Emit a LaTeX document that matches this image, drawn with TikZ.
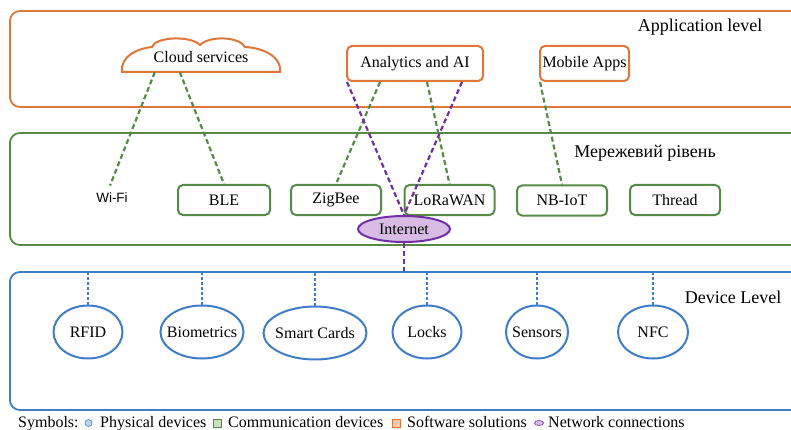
\documentclass[tikz,border=0pt]{standalone}
\usepackage{fontspec}
\setmainfont{Liberation Serif}
\newfontfamily\wififont{Liberation Sans}
\usetikzlibrary{positioning,shapes.geometric}
\definecolor{apporange}{HTML}{E0773A}
\definecolor{netgreen}{HTML}{548B45}
\definecolor{devblue}{HTML}{3F7DCB}
\definecolor{netpurple}{HTML}{7030A0}
\definecolor{internetfill}{HTML}{D9BCE6}
\definecolor{physfill}{HTML}{BDD3EE}
\definecolor{commfill}{HTML}{C9E2BC}
\definecolor{softfill}{HTML}{F8CBAD}
\begin{document}
\begin{tikzpicture}[
        x=1pt, y=-1pt,
        font=\fontsize{16}{19}\selectfont,
        layer/.style={draw, line width=1.8pt, rounded corners=10pt, minimum width=821pt, anchor=west},
        title/.style={font=\fontsize{18}{21}\selectfont},
        appbox/.style={draw=apporange, line width=2pt, rounded corners=5pt, minimum height=35pt},
        netbox/.style={draw=netgreen, line width=2pt, rounded corners=5pt, minimum width=90pt, minimum height=30pt},
        device/.style={ellipse, draw=devblue, line width=2pt, minimum height=53pt, inner xsep=-6pt, inner ysep=0pt},
        greenlink/.style={draw=netgreen, dash pattern=on 5pt off 3pt, line width=2.2pt},
        purplelink/.style={draw=netpurple, dash pattern=on 5pt off 3pt, line width=2.2pt},
        bluelink/.style={draw=devblue, dash pattern=on 3pt off 2pt, line width=2.2pt},
        keytext/.style={anchor=base west, inner sep=0pt}
    ]
        \useasboundingbox (0,0) rectangle (791,430);

        % Three levels
        \node[layer, draw=apporange, minimum height=96pt] (applayer) at (9,59) {};
        \node[layer, draw=netgreen, minimum height=112pt] (netlayer) at (9,189) {};
        \node[layer, draw=devblue, minimum height=138pt] (devlayer) at (9,341) {};

        % Application level
        \node[title] (apptitle) at (700,27) {Application level};
        \node[minimum width=158pt, minimum height=30pt] (cloud) at (201,57) {Cloud services};
        \draw[apporange, line width=2pt] (122,72) .. controls (120,55) and (140,48) .. (152,47)
            .. controls (155,37) and (190,35) .. (200,45)
            .. controls (210,35) and (240,37) .. (245,47)
            .. controls (265,48) and (282,58) .. (280,72) -- cycle;
        \node[appbox, minimum width=136pt] (analytics) at (415,63.5) {Analytics and AI};
        \node[appbox, minimum width=89pt, inner xsep=2pt] (mobile) at (584.5,63.5) {Mobile Apps};

        % Network level
        \node[title] (nettitle) at (645,153) {Мережевий рівень};
        \node[font=\wififont\fontsize{13.5}{16}\selectfont] (wifi) at (112,198) {Wi-Fi};
        \node[netbox, minimum width=92pt] (ble) at (224,200) {BLE};
        \node[netbox] (zigbee) at (336,200) {ZigBee};
        \node[netbox] (lorawan) at (449.5,200) {LoRaWAN};
        \node[netbox] (nbiot) at (562,200.5) {NB-IoT};
        \node[netbox] (thread) at (675,200) {Thread};
        \node[ellipse, draw=netpurple, fill=internetfill, line width=2pt, minimum width=92pt,
            minimum height=26pt, inner sep=0pt] (internet) at (404,229) {Internet};

        % Device level
        \node[title] (devtitle) at (733,297) {Device Level};
        \node[device, minimum width=69pt] (rfid) at (88,332) {RFID};
        \node[device, minimum width=83pt] (biometrics) at (202,332) {Biometrics};
        \node[device, minimum width=103pt] (smartcards) at (315,333) {Smart Cards};
        \node[device, minimum width=69pt] (locks) at (427,332) {Locks};
        \node[device, minimum width=62pt] (sensors) at (537,332) {Sensors};
        \node[device, minimum width=70pt] (nfc) at (653,332) {NFC};

        % Links between levels
        \draw[greenlink] ([xshift=33pt]cloud.south west) -- ([xshift=-2pt,yshift=4pt]wifi.north);
        \draw[greenlink] ([xshift=58pt]cloud.south west) -- (ble.north);
        \draw[greenlink] ([xshift=34pt]analytics.south west) -- (zigbee.north);
        \draw[greenlink] ([xshift=12pt]analytics.south) -- (lorawan.north);
        \draw[greenlink] ([xshift=1pt]mobile.south west) -- (nbiot.north);
        \draw[purplelink] ([xshift=1pt]analytics.south west) -- (internet.north);
        \draw[purplelink] ([xshift=-22pt]analytics.south east) -- (internet.north);
        \draw[purplelink] (internet.south) -- (internet.south |- devlayer.north);
        \foreach \dev in {rfid, biometrics, smartcards, locks, sensors, nfc}
            \draw[bluelink] (\dev.north) -- (\dev.north |- devlayer.north);

        % Symbols
        \node[keytext] (symbols) at (18,427) {Symbols:};
        \node[circle, draw=devblue, fill=physfill, line width=0.6pt, minimum size=7pt, inner sep=0pt] (physkey) at (88.5,423) {};
        \node[keytext] (physical) at (100,427) {Physical devices};
        \node[draw=netgreen, fill=commfill, line width=0.6pt, minimum size=8pt, inner sep=0pt] (commkey) at (217.5,423) {};
        \node[keytext] (communication) at (228,427) {Communication devices};
        \node[draw=apporange, fill=softfill, line width=0.6pt, minimum size=8pt, inner sep=0pt] (softkey) at (396,423) {};
        \node[keytext] (software) at (407,427) {Software solutions};
        \node[ellipse, draw=netpurple, fill=internetfill, line width=0.6pt, minimum width=9pt, minimum height=5pt, inner sep=0pt] (netkey) at (539,423) {};
        \node[keytext] (network) at (548,427) {Network connections};
    \end{tikzpicture}
\end{document}
